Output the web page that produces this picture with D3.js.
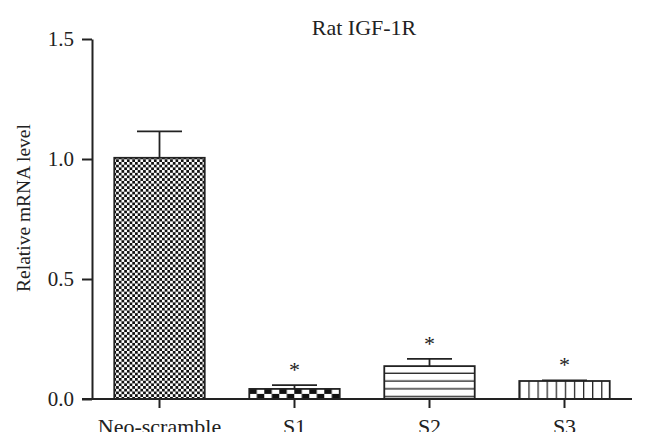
<!DOCTYPE html>
<html>
<head>
<meta charset="utf-8">
<script src="https://cdn.jsdelivr.net/npm/d3@7"></script>
<style>
  body { margin: 0; background: #fff; }
  svg text { font-family: "Liberation Serif", "DejaVu Serif", serif; fill: #222; }
</style>
</head>
<body>
<div id="chart"></div>
<script>
// chart values
const groups = ["Neo-scramble", "S1", "S2", "S3"];
const means = [1.005, 0.042, 0.137, 0.075];
const sems = [0.11, 0.016, 0.03, 0.003];
const starred = [false, true, true, true];
const fills = ["fineCheck", "coarseCheck", "hLines", "vLines"];
const yTicks = [0, 0.5, 1.0, 1.5];

function drawChart() {
    const width = 646;
    const height = 446;

    const svg = d3.select("#chart")
        .append("svg")
        .attr("width", width)
        .attr("height", height);

    const x = d3.scaleBand()
        .domain(groups)
        .range([92, 632])
        .paddingInner(0.33)
        .paddingOuter(0.165);

    const y = d3.scaleLinear()
        .domain([0, 1.5])
        .range([399, 39]);

    // fill patterns
    const defs = svg.append("defs");

    const fine = defs.append("pattern")
        .attr("id", "fineCheck")
        .attr("patternUnits", "userSpaceOnUse")
        .attr("width", 5.4).attr("height", 5.4);
    fine.append("rect").attr("width", 5.4).attr("height", 5.4).attr("fill", "#fff");
    fine.append("rect").attr("width", 2.7).attr("height", 2.7).attr("fill", "#111");
    fine.append("rect").attr("x", 2.7).attr("y", 2.7).attr("width", 2.7).attr("height", 2.7).attr("fill", "#111");

    const s1x = x("S1"), s1y = y(means[1]);
    const coarse = defs.append("pattern")
        .attr("id", "coarseCheck")
        .attr("patternUnits", "userSpaceOnUse")
        .attr("x", s1x).attr("y", s1y)
        .attr("width", 15).attr("height", 10);
    coarse.append("rect").attr("width", 15).attr("height", 10).attr("fill", "#fff");
    coarse.append("rect").attr("width", 7.5).attr("height", 5).attr("fill", "#111");
    coarse.append("rect").attr("x", 7.5).attr("y", 5).attr("width", 7.5).attr("height", 5).attr("fill", "#111");

    const hl = defs.append("pattern")
        .attr("id", "hLines")
        .attr("patternUnits", "userSpaceOnUse")
        .attr("y", y(means[2]))
        .attr("width", 10).attr("height", 7.8);
    hl.append("rect").attr("width", 10).attr("height", 7.8).attr("fill", "#fff");
    hl.append("line").attr("x1", 0).attr("x2", 10).attr("y1", 7.2).attr("y2", 7.2)
        .attr("stroke", "#222").attr("stroke-width", 1.5);

    const vl = defs.append("pattern")
        .attr("id", "vLines")
        .attr("patternUnits", "userSpaceOnUse")
        .attr("x", x("S3"))
        .attr("width", 9.1).attr("height", 10);
    vl.append("rect").attr("width", 9.1).attr("height", 10).attr("fill", "#fff");
    vl.append("line").attr("x1", 0.5).attr("x2", 0.5).attr("y1", 0).attr("y2", 10)
        .attr("stroke", "#222").attr("stroke-width", 1.5);

    // title
    svg.append("text")
        .attr("x", 364)
        .attr("y", 35)
        .attr("text-anchor", "middle")
        .style("font-size", "22px")
        .text("Rat IGF-1R");

    // y axis title
    svg.append("text")
        .attr("transform", "translate(30,208) rotate(-90)")
        .attr("text-anchor", "middle")
        .style("font-size", "19.5px")
        .text("Relative mRNA level");

    // bars
    const bars = svg.selectAll(".bar")
        .data(groups)
        .enter()
        .append("g")
        .attr("class", "bar");

    // error bars (drawn first so the bar border sits on top)
    bars.append("line")
        .attr("x1", d => x(d) + x.bandwidth() / 2)
        .attr("x2", d => x(d) + x.bandwidth() / 2)
        .attr("y1", (d, i) => y(means[i]))
        .attr("y2", (d, i) => y(means[i] + sems[i]))
        .attr("stroke", "#222").attr("stroke-width", 1.8);

    bars.append("line")
        .attr("x1", d => x(d) + x.bandwidth() / 2 - 22.5)
        .attr("x2", d => x(d) + x.bandwidth() / 2 + 22.5)
        .attr("y1", (d, i) => y(means[i] + sems[i]))
        .attr("y2", (d, i) => y(means[i] + sems[i]))
        .attr("stroke", "#222").attr("stroke-width", 1.8);

    bars.append("rect")
        .attr("x", d => x(d))
        .attr("y", (d, i) => y(means[i]))
        .attr("width", x.bandwidth())
        .attr("height", (d, i) => y(0) - y(means[i]))
        .attr("fill", (d, i) => `url(#${fills[i]})`)
        .attr("stroke", "#222")
        .attr("stroke-width", 1.8);

    bars.filter((d, i) => starred[i])
        .append("text")
        .attr("x", d => x(d) + x.bandwidth() / 2)
        .attr("y", d => { const i = groups.indexOf(d); return y(means[i] + sems[i]) - 8; })
        .attr("text-anchor", "middle")
        .style("font-size", "22px")
        .text("*");

    // y axis
    const yAxis = svg.append("g")
        .attr("transform", "translate(92,0)")
        .call(d3.axisLeft(y).tickValues(yTicks).tickFormat(d3.format(".1f")).tickSize(10).tickPadding(8).tickSizeOuter(0));
    yAxis.select(".domain").attr("stroke", "#222").attr("stroke-width", 2);
    yAxis.selectAll(".tick line").attr("stroke", "#222").attr("stroke-width", 2);
    yAxis.selectAll(".tick text")
        .style("font-family", "'Liberation Serif', serif")
        .style("font-size", "21px")
        .attr("fill", "#222");

    // x axis, clipped at the bottom like the source image
    svg.append("clipPath").attr("id", "bottomClip")
        .append("rect").attr("x", 0).attr("y", 0).attr("width", width).attr("height", 432);

    const xAxis = svg.append("g")
        .attr("clip-path", "url(#bottomClip)")
        .append("g")
        .attr("transform", "translate(0,399)")
        .call(d3.axisBottom(x).tickSize(9).tickPadding(10).tickSizeOuter(0));
    xAxis.select(".domain").remove();
    xAxis.append("line")
        .attr("x1", 82).attr("x2", 632)
        .attr("stroke", "#222").attr("stroke-width", 2);
    xAxis.selectAll(".tick line").attr("stroke", "#222").attr("stroke-width", 2);
    xAxis.selectAll(".tick text")
        .style("font-family", "'Liberation Serif', serif")
        .style("font-size", "22px")
        .attr("fill", "#222");
}

drawChart();
</script>
</body>
</html>
